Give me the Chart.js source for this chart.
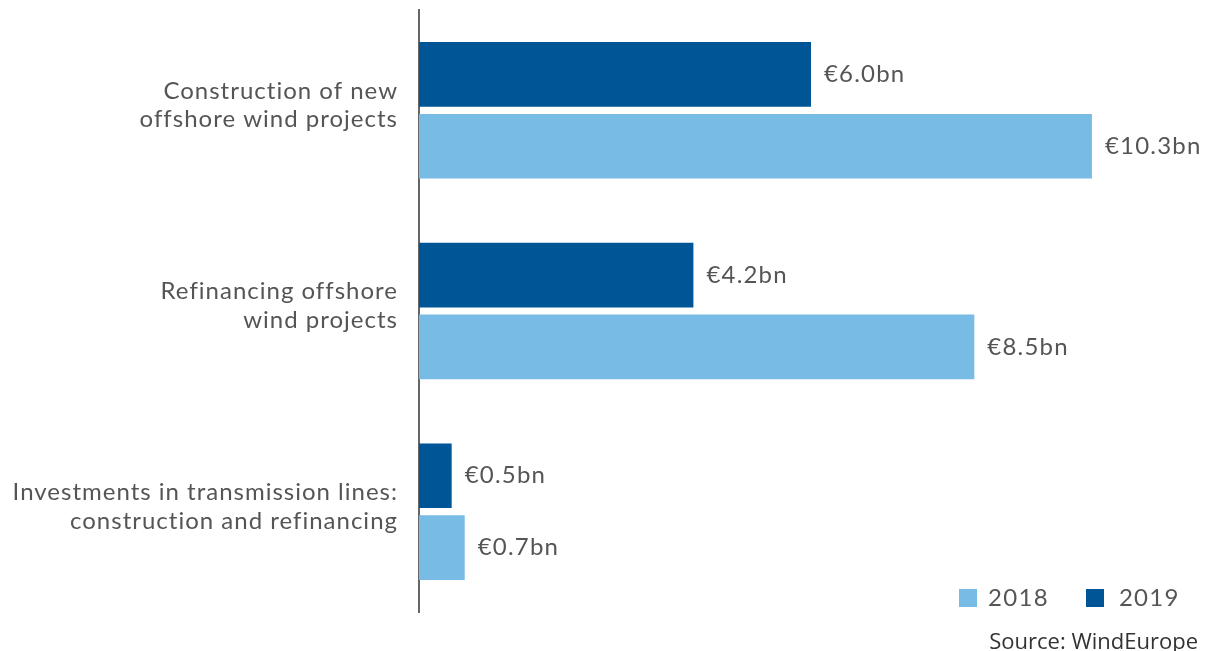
<!DOCTYPE html>
<html>
<head>
<meta charset="utf-8">
<script src="https://cdn.jsdelivr.net/npm/chart.js@4"></script>
<style>
  html, body { margin: 0; padding: 0; background: #fff; }
  #wrap { position: relative; width: 1207px; height: 651px; }
  .legend { position: absolute; top: 582px; left: 959px; font-family: Lato, sans-serif; font-size: 24px; letter-spacing: 1.3px; color: #555; white-space: nowrap; }
  .legend span.box { display: inline-block; width: 18px; height: 18px; vertical-align: -1px; margin-right: 11px; }
  .legend span.item { margin-right: 37px; }
  .legend span.last .box { margin-right: 15px; }
  .source { position: absolute; right: 9px; top: 625px; font-family: "Open Sans", sans-serif; font-size: 22px; color: #333; }
</style>
</head>
<body>
<div id="wrap">
  <canvas id="chart" width="1207" height="651"></canvas>
  <div class="legend">
    <span class="item"><span class="box" style="background:#78bce6"></span>2018</span><span class="last"><span class="box" style="background:#005596"></span>2019</span>
  </div>
  <div class="source">Source: WindEurope</div>
</div>
<script>
// Категории и значения (млрд евро)
const categories = [
  ['Construction of new', 'offshore wind projects'],
  ['Refinancing offshore', 'wind projects'],
  ['Investments in transmission lines:', 'construction and refinancing']
];
const values2019 = [6.0, 4.2, 0.5];
const values2018 = [10.3, 8.5, 0.7];

const textColor = '#555';

// Немного разрядки, как в оригинале
const spacing = {
  id: 'spacing',
  beforeDraw(chart) {
    chart.ctx.letterSpacing = '1px';
  }
};

// Подписи значений справа от баров
const valueLabels = {
  id: 'valueLabels',
  afterDatasetsDraw(chart) {
    const ctx = chart.ctx;
    ctx.save();
    ctx.letterSpacing = '1.2px';
    ctx.font = '24px Lato, sans-serif';
    ctx.fillStyle = textColor;
    ctx.textBaseline = 'middle';
    ctx.textAlign = 'left';
    chart.data.datasets.forEach((ds, i) => {
      chart.getDatasetMeta(i).data.forEach((bar, j) => {
        ctx.fillText('€' + ds.data[j].toFixed(1) + 'bn', bar.x + 13, bar.y);
      });
    });
    ctx.restore();
  }
};

new Chart(document.getElementById('chart'), {
  type: 'bar',
  data: {
    labels: categories,
    datasets: [
      { label: '2019', data: values2019, backgroundColor: '#005596' },
      { label: '2018', data: values2018, backgroundColor: '#78bce6' }
    ]
  },
  options: {
    indexAxis: 'y',
    responsive: false,
    animation: false,
    categoryPercentage: 0.716,
    barPercentage: 0.9,
    layout: { padding: { top: 10, bottom: 39, left: 0, right: 4 } },
    scales: {
      x: { display: false, min: 0, max: 12 },
      y: {
        grid: { display: false, drawTicks: false },
        border: { display: true, color: '#666', width: 2 },
        ticks: {
          color: textColor,
          font: { family: 'Lato, sans-serif', size: 24 },
          padding: 21,
          labelOffset: -5
        },
        afterFit(scale) {
          scale.width = 419;
          scale.paddingTop = 0;
          scale.paddingBottom = 0;
        }
      }
    },
    plugins: {
      legend: { display: false },
      tooltip: { enabled: false }
    }
  },
  plugins: [spacing, valueLabels]
});
</script>
</body>
</html>
